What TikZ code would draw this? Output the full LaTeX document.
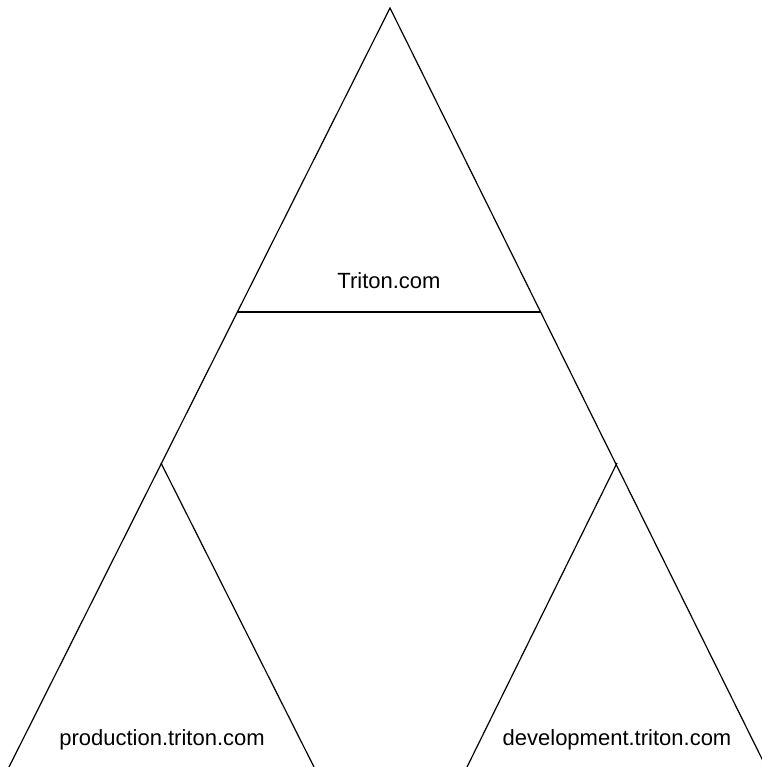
\documentclass[tikz,border=0pt]{standalone}
\usepackage{fontspec}
\setmainfont{Liberation Sans}
\usetikzlibrary{positioning}

\begin{document}
\begin{tikzpicture}[x=1pt, y=-1pt,
  edge/.style={draw, line width=1.2pt, line join=miter},
  lab/.style={font=\fontsize{22}{26}\selectfont, inner sep=0pt, anchor=base}]
  \useasboundingbox (0,0) rectangle (761,767);
  % corners of the big triangle
  \coordinate (top) at (390,8);
  \coordinate (baseL) at (9,767);
  \coordinate (baseR) at (766,767);
  \coordinate (midL) at (237,312);
  \coordinate (midR) at (541,312);
  % sub triangles
  \coordinate (prodTop) at (161,463);
  \coordinate (prodR) at (314,767);
  \coordinate (devTop) at (617,463);
  \coordinate (devL) at (467,767);

  \draw[edge] (baseL) -- (top) -- (baseR);
  \draw[edge] (midL) -- (midR);
  \draw[edge] (prodTop) -- (prodR);
  \draw[edge] (devTop) -- (devL);

  \node[lab] (root) at (389,288) {Triton.com};
  \node[lab] (prod) at (162,745) {production.triton.com};
  \node[lab] (dev) at (617,745) {development.triton.com};
\end{tikzpicture}
\end{document}
